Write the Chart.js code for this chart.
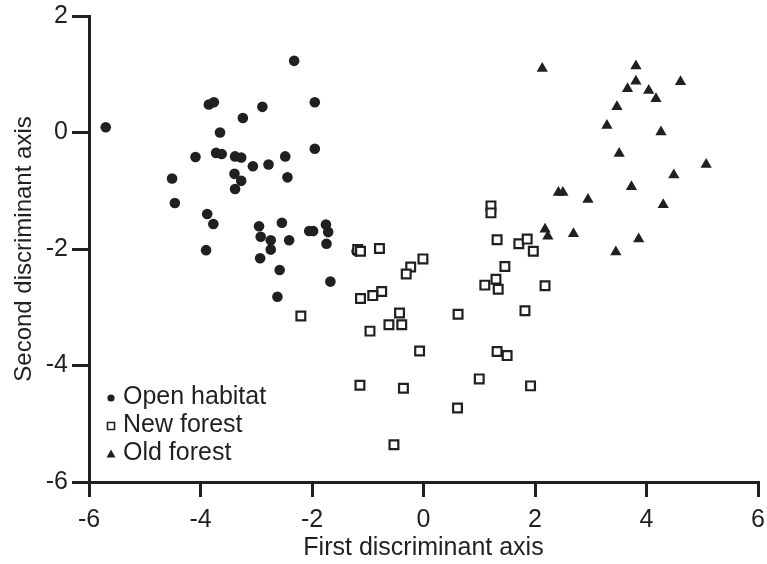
<!DOCTYPE html>
<html>
<head>
<meta charset="utf-8">
<script src="https://cdn.jsdelivr.net/npm/chart.js@4.4.1/dist/chart.umd.min.js"></script>
<style>
  html, body { margin: 0; padding: 0; background: #ffffff; }
  canvas { display: block; }
</style>
</head>
<body>
<canvas id="c" width="767" height="564"></canvas>
<script>
// ---- Data ----
const seriesLabels = ["Open habitat", "New forest", "Old forest"];

const openX = [-5.70, -3.85, -3.76, -2.89, -3.24, -2.32, -1.95, -1.95, -3.65, -4.09,
               -3.72, -3.62, -3.38, -3.27, -3.06, -2.78, -2.48, -4.51, -3.39, -3.27,
               -3.38, -2.44, -4.46, -3.88, -3.77, -2.95, -2.92, -3.90, -2.93, -2.74,
               -2.54, -2.74, -2.41, -2.05, -1.98, -1.75, -1.71, -1.74, -2.58, -1.67,
               -2.62, -1.20];
const openY = [0.09, 0.48, 0.52, 0.44, 0.25, 1.23, 0.52, -0.28, 0.00, -0.42,
               -0.35, -0.37, -0.41, -0.43, -0.58, -0.55, -0.41, -0.79, -0.71, -0.83,
               -0.97, -0.77, -1.21, -1.40, -1.57, -1.61, -1.79, -2.02, -2.16, -1.85,
               -1.55, -2.01, -1.85, -1.69, -1.69, -1.58, -1.71, -1.91, -2.36, -2.56,
               -2.82, -2.04];

const newX = [-2.20, -1.18, -1.13, -0.79, -0.01, -0.23, -0.31, -0.75, -0.91, -1.13,
              -0.43, -0.62, -0.39, -0.96, -0.07, -1.14, -0.36, -0.53, 0.62, 0.61,
              1.00, 1.92, 1.32, 1.50, 1.82, 2.18, 1.10, 1.30, 1.34, 1.46,
              1.32, 1.71, 1.86, 1.97, 1.21, 1.21];
const newY = [-3.15, -2.01, -2.04, -1.99, -2.17, -2.31, -2.43, -2.73, -2.80, -2.85,
              -3.10, -3.30, -3.30, -3.41, -3.75, -4.34, -4.39, -5.36, -3.12, -4.73,
              -4.23, -4.35, -3.76, -3.83, -3.06, -2.63, -2.62, -2.52, -2.69, -2.30,
              -1.84, -1.91, -1.83, -2.04, -1.26, -1.38];

const oldX = [2.13, 3.81, 3.81, 4.61, 3.66, 4.04, 4.17, 3.47, 3.29, 4.26,
              3.51, 5.07, 4.49, 3.73, 2.42, 2.50, 2.95, 4.30, 2.18, 2.23,
              2.69, 3.86, 3.45];
const oldY = [1.10, 1.14, 0.88, 0.87, 0.75, 0.72, 0.58, 0.44, 0.12, 0.01,
              -0.36, -0.55, -0.73, -0.93, -1.03, -1.03, -1.15, -1.24, -1.66, -1.78,
              -1.74, -1.83, -2.05];

const xTickValues = [-6, -4, -2, 0, 2, 4, 6];
const yTickValues = [-6, -4, -2, 0, 2];
const xTitle = "First discriminant axis";
const yTitle = "Second discriminant axis";

// ---- Styling ----
const INK = "#231f20";
const FONT = '"Liberation Sans", Arial, Helvetica, sans-serif';

function toPoints(xs, ys) { return xs.map((x, i) => ({ x: x, y: ys[i] })); }

const insetLegend = {
  id: "insetLegend",
  afterDraw(chart) {
    const ctx = chart.ctx;
    const markerX = 111, textX = 123, firstY = 397, rowH = 28;
    ctx.save();
    ctx.font = "25px " + FONT;
    ctx.textBaseline = "middle";
    ctx.textAlign = "left";
    chart.data.datasets.forEach((ds, i) => {
      const y = firstY + i * rowH;
      ctx.fillStyle = INK;
      ctx.strokeStyle = INK;
      if (ds.pointStyle === "circle") {
        ctx.beginPath(); ctx.arc(markerX, y + 1, 3.6, 0, Math.PI * 2); ctx.fill();
      } else if (ds.pointStyle === "rect") {
        ctx.lineWidth = 1.6;
        ctx.fillStyle = "#ffffff";
        ctx.beginPath(); ctx.rect(markerX - 3.5, y - 2.5, 7, 7); ctx.fill(); ctx.stroke();
      } else {
        ctx.beginPath();
        ctx.moveTo(markerX, y - 3.5);
        ctx.lineTo(markerX + 4.5, y + 4.5);
        ctx.lineTo(markerX - 4.5, y + 4.5);
        ctx.closePath(); ctx.fill();
      }
      ctx.fillStyle = INK;
      ctx.fillText(ds.label, textX, y);
    });
    ctx.restore();
  }
};

new Chart(document.getElementById("c"), {
  type: "scatter",
  data: {
    datasets: [
      { label: seriesLabels[0], data: toPoints(openX, openY), pointStyle: "circle",
        pointRadius: 5.3, backgroundColor: INK, borderColor: INK, borderWidth: 0, order: 3 },
      { label: seriesLabels[1], data: toPoints(newX, newY), pointStyle: "rect",
        pointRadius: 6.2, backgroundColor: "#ffffff", borderColor: INK, borderWidth: 2.2, order: 1 },
      { label: seriesLabels[2], data: toPoints(oldX, oldY), pointStyle: "triangle",
        pointRadius: 6.5, backgroundColor: INK, borderColor: INK, borderWidth: 0, order: 2 }
    ]
  },
  options: {
    responsive: false,
    animation: false,
    devicePixelRatio: 1,
    layout: { padding: { top: 16, right: 9, left: 0, bottom: 0 } },
    plugins: { legend: { display: false }, tooltip: { enabled: false } },
    scales: {
      x: {
        type: "linear",
        min: -6, max: 6,
        border: { display: true, color: INK, width: 3 },
        grid: { drawOnChartArea: false, drawTicks: true, tickLength: 15, color: INK, lineWidth: 3 },
        afterBuildTicks: (s) => { s.ticks = xTickValues.map(v => ({ value: v })); },
        afterFit: (s) => { s.height = 82; s.paddingLeft = 0; s.paddingRight = 0; },
        ticks: { color: INK, font: { family: FONT, size: 25 }, padding: 8,
                 callback: (v) => String(v) },
        title: { display: true, text: xTitle, color: INK,
                 font: { family: FONT, size: 25 }, padding: { top: 0, bottom: 1 } }
      },
      y: {
        type: "linear",
        min: -6, max: 2,
        border: { display: true, color: INK, width: 3 },
        grid: { drawOnChartArea: false, drawTicks: true, tickLength: 17, color: INK, lineWidth: 3 },
        afterBuildTicks: (s) => { s.ticks = yTickValues.map(v => ({ value: v })); },
        afterFit: (s) => { s.width = 89; s.paddingTop = 0; s.paddingBottom = 0; },
        ticks: { color: INK, font: { family: FONT, size: 25 }, padding: 4,
                 callback: (v) => String(v) },
        title: { display: true, text: yTitle, color: INK,
                 font: { family: FONT, size: 24 }, padding: { top: 10, bottom: 0 } }
      }
    }
  },
  plugins: [insetLegend]
});
</script>
</body>
</html>
